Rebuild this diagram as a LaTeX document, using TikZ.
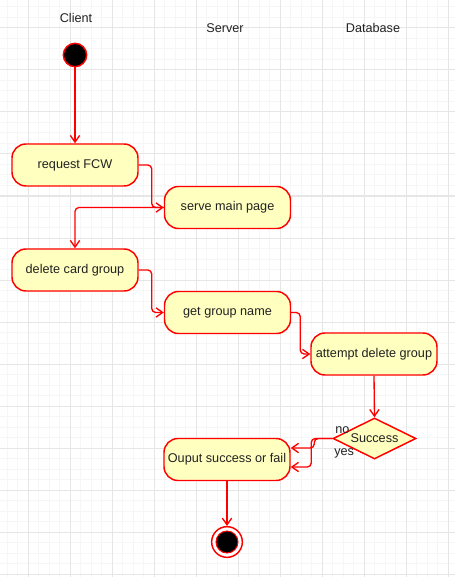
\documentclass[tikz,border=0pt]{standalone}
\usepackage{fontspec}
\setmainfont{Liberation Sans}
\usepackage{tikz}
\usetikzlibrary{arrows.meta, shapes.geometric, calc}
\definecolor{umlred}{RGB}{255, 0, 0}
\definecolor{umlfill}{RGB}{255, 255, 192}
\definecolor{gridminor}{RGB}{246, 246, 246}
\definecolor{gridmajor}{RGB}{230, 230, 230}
\definecolor{ink}{RGB}{34, 34, 34}

\begin{document}
\begin{tikzpicture}[x=0.75pt, y=-0.75pt,
    font=\fontsize{9.5}{11}\selectfont, text=ink,
    action/.style={draw=umlred, fill=umlfill, line width=1.1pt, rounded corners=10.5pt,
      minimum width=94.5pt, minimum height=31.5pt, inner sep=0pt},
    decision/.style={diamond, aspect=2, draw=umlred, fill=umlfill, line width=1.1pt,
      minimum width=62.25pt, minimum height=30.75pt, inner sep=0pt},
    flow/.style={draw=umlred, line width=1pt, rounded corners=3pt,
      -{Straight Barb[length=5pt, width=7pt]}},
    lane/.style={inner sep=0pt}]

  \fill[white] (0, 0) rectangle (455, 577);
  \useasboundingbox (0, 0) rectangle (455, 577);
  \begin{scope}
    \clip (0, 0) rectangle (455, 577);
    \foreach \i in {0, ..., 43} {
      \draw[gridminor, line width=0.75pt] ({7 + 10.5 * \i}, 0) -- ++(0, 577);
    }
    \foreach \i in {0, ..., 54} {
      \draw[gridminor, line width=0.75pt] (0, {7 + 10.5 * \i}) -- ++(455, 0);
    }
    \foreach \i in {0, ..., 10} {
      \draw[gridmajor, line width=0.75pt] ({28 + 42 * \i}, 0) -- ++(0, 577);
    }
    \foreach \i in {0, ..., 13} {
      \draw[gridmajor, line width=0.75pt] (0, {28 + 42 * \i}) -- ++(455, 0);
    }
  \end{scope}

  \node[lane] (client) at (76, 18) {Client};
  \node[lane] (server) at (225, 28) {Server};
  \node[lane] (database) at (373, 28) {Database};

  \node[circle, draw=umlred, fill=black, line width=1.1pt, minimum size=17.5pt,
    inner sep=0pt] (start) at (75, 55) {};

  \node[action] (req) at (75, 165) {request FCW};
  \node[action] (serve) at (227.5, 207.5) {serve main page};
  \node[action] (del) at (75, 270) {delete card group};
  \node[action] (getname) at (227.5, 312.5) {get group name};
  \node[action] (attempt) at (374, 354) {attempt delete group};
  \node[decision] (success) at (374.5, 438.5) {Success};
  \node[action] (out) at (227, 459.5) {Ouput success or fail};

  \node[circle, draw=umlred, fill=white, line width=1.1pt, minimum size=23pt,
    inner sep=0pt] (finish) at (227, 542) {};
  \filldraw[fill=black, draw=umlred, line width=0.75pt] (finish.center) circle (8.25pt);

  \draw[flow] (start.south) -- (req.north);
  \draw[flow] (req.east) -- ++(13, 0) |- (serve.west);
  \draw[flow] (serve.west) -| (del.north);
  \draw[flow] (del.east) -- ++(13, 0) |- (getname.west);
  \draw[flow] (getname.east) -- ++(9, 0) |- (attempt.west);
  \draw[flow] (attempt.south) -- (success.north);
  \draw[flow] (success.west) -- ++(-18, 0) |- ($(out.east) + (0, -11.5)$);
  \draw[flow] (success.west) -- ++(-21, 0) |- ($(out.east) + (0, 7.5)$);

  \node[lane, anchor=base west] (nolabel) at (335, 433) {no};
  \node[lane, anchor=base west] (yeslabel) at (334, 455) {yes};

  \draw[flow] (out.south) -- (finish.north);

\end{tikzpicture}
\end{document}
